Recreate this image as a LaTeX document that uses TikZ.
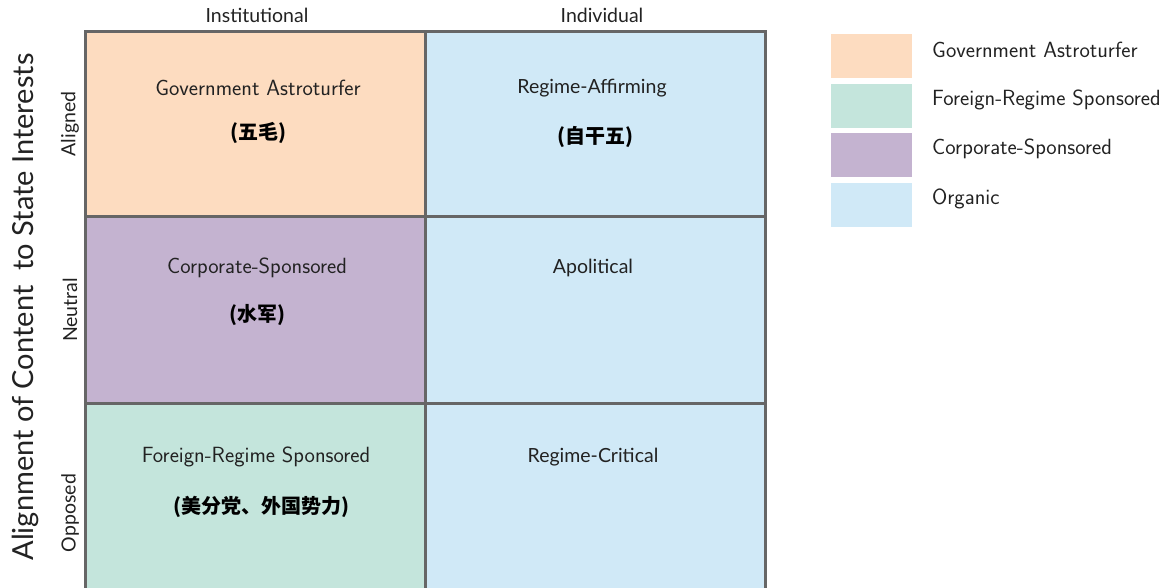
\documentclass[tikz,border=0pt]{standalone}
\usepackage{fontspec}
\setmainfont{Lato}
\setsansfont{Latin Modern Sans}
\newfontfamily\lato{Lato}
\newfontfamily\lms{Latin Modern Sans}
\newfontfamily\cjk{Noto Sans CJK SC}
\definecolor{peach}{HTML}{FDDCC0}
\definecolor{mint}{HTML}{C4E5DC}
\definecolor{lilac}{HTML}{C4B3D0}
\definecolor{sky}{HTML}{D0E9F7}
\definecolor{gridc}{HTML}{666666}
\definecolor{txt}{HTML}{222222}
\tikzset{
  cell/.style={draw=none, inner sep=0pt, anchor=north west},
  lbl/.style={text=txt, font=\lato\fontsize{19.5}{22}\selectfont, inner sep=0pt},
  lefttxt/.style={text=txt, font=\lms\fontsize{22}{25}\selectfont, inner sep=0pt},
  zh/.style={text=black, font=\cjk\bfseries\fontsize{20}{23}\selectfont, inner sep=0pt},
  legbox/.style={draw=none, inner sep=0pt, minimum width=81pt, minimum height=44pt, anchor=north west},
  gridline/.style={draw=gridc, line width=3pt}
}
\begin{document}
\begin{tikzpicture}[x=1pt,y=-1pt]
\useasboundingbox (0,0) rectangle (1171,587);
\begin{scope}
\clip (0,0) rectangle (1171,587);
% cells
\node[cell, fill=peach, minimum width=340pt, minimum height=185pt] (c11) at (85,31) {};
\node[cell, fill=sky, minimum width=340pt, minimum height=185pt] (c12) at (425,31) {};
\node[cell, fill=lilac, minimum width=340pt, minimum height=187pt] (c21) at (85,216) {};
\node[cell, fill=sky, minimum width=340pt, minimum height=187pt] (c22) at (425,216) {};
\node[cell, fill=mint, minimum width=340pt, minimum height=190pt] (c31) at (85,403) {};
\node[cell, fill=sky, minimum width=340pt, minimum height=190pt] (c32) at (425,403) {};
% grid lines
\draw[gridline] (c11.north west) rectangle (c32.south east);
\draw[gridline] (c11.north east) -- (c31.south east);
\draw[gridline] (c11.south west) -- (c12.south east);
\draw[gridline] (c21.south west) -- (c22.south east);
\end{scope}
% column headers
\node[lbl] (hinst) at (257,15) {Institutional};
\node[lbl] (hind) at (602,15) {Individual};
% row labels
\node[lbl, rotate=90] (raligned) at (70,124) {Aligned};
\node[lbl, rotate=90] (rneutral) at (70,310) {Neutral};
\node[lbl, rotate=90] (ropposed) at (70,513) {Opposed};
\node[text=txt, font=\lato\fontsize{29}{33}\selectfont, inner sep=0pt, rotate=90] (yaxis) at (25,307) {Alignment of Content\ \ to State Interests};
% cell texts
\node[lefttxt] (t11) at (258,88) {Government Astroturfer};
\node[zh] (z11) at (258,133) {(五毛)};
\node[lbl] (t12) at (592,88) {Regime-Affirming};
\node[zh] (z12) at (595,137) {(自干五)};
\node[lefttxt] (t21) at (257,268) {Corporate-Sponsored};
\node[zh] (z21) at (257,315) {(水军)};
\node[lbl] (t22) at (593,268) {Apolitical};
\node[lefttxt] (t31) at (256,457) {Foreign-Regime Sponsored};
\node[zh] (z31) at (261,507) {(美分党、外国势力)};
\node[lbl] (t32) at (593,457) {Regime-Critical};
% legend
\node[legbox, fill=peach] (l1) at (831,34) {};
\node[legbox, fill=mint] (l2) at (831,84) {};
\node[legbox, fill=lilac] (l3) at (831,133) {};
\node[legbox, fill=sky] (l4) at (831,183) {};
\node[lefttxt, anchor=west] (lt1) at (932,50) {Government Astroturfer};
\node[lefttxt, anchor=west] (lt2) at (932,100) {Foreign-Regime Sponsored};
\node[lefttxt, anchor=west] (lt3) at (932,149) {Corporate-Sponsored};
\node[lefttxt, anchor=west] (lt4) at (932,199) {Organic};
\end{tikzpicture}
\end{document}
